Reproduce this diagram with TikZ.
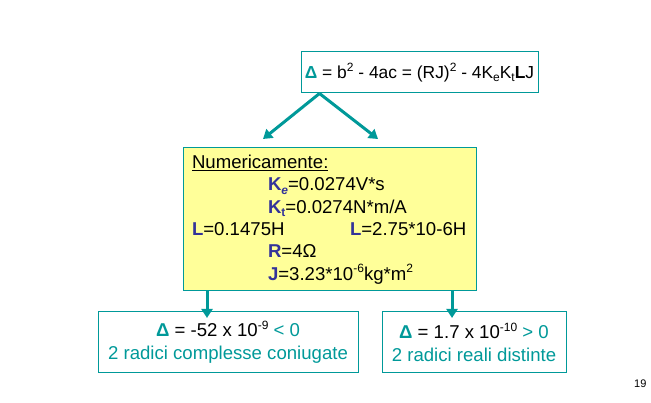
\documentclass[tikz,border=0pt]{standalone}
\usepackage{fontspec}
\setmainfont{Liberation Sans}
\usepackage{tikz}
\usetikzlibrary{arrows.meta}
\definecolor{tealline}{RGB}{0,153,153}
\definecolor{navyvar}{RGB}{51,51,153}
\definecolor{paleyellow}{RGB}{255,255,153}
\newcommand{\var}[1]{\textcolor{navyvar}{\textbf{#1}}}
\newcommand{\dlt}{\textcolor{tealline}{\textbf{Δ}}}
\newcommand{\up}[1]{\raisebox{0.4em}{\fontsize{12}{12}\selectfont #1}}
\newcommand{\dn}[1]{\raisebox{-0.2em}{\fontsize{12}{12}\selectfont #1}}

\begin{document}
\begin{tikzpicture}[x=1pt,y=1pt,
  box/.style={draw=tealline, line width=1pt, inner sep=0pt,
    font=\fontsize{18.6}{23}\selectfont},
  arr/.style={draw=tealline, line width=3pt, -{Triangle[length=9pt,width=11pt]}}]
\useasboundingbox (0,0) rectangle (651,403);
% discriminante
\node[box, minimum width=237pt, minimum height=41pt, font=\fontsize{17.4}{20}\selectfont] (delta) at (419.5,330.5)
  {\dlt{} = b\up{2} - 4ac = (RJ)\up{2} - 4K\dn{e}K\dn{t}\textbf{L}J};
% valori numerici
\node[box, fill=paleyellow, minimum width=293pt, minimum height=143pt,
  text width=275pt, align=left, font=\fontsize{18.6}{22.4}\selectfont] (num) at (329.5,183.5)
  {\underline{Numericamente:}\\
   \hspace*{76pt}\var{K}\dn{\var{\textit{e}}}=0.0274V*s\\
   \hspace*{76pt}\var{K}\dn{\var{t}}=0.0274N*m/A\\
   \makebox[158pt][l]{\var{L}=0.1475H}\var{L}=2.75*10-6H\\
   \hspace*{76pt}\var{R}=4Ω\\
   \hspace*{76pt}\var{J}=3.23*10\up{-6}kg*m\up{2}};
% due casi
\node[box, minimum width=260pt, minimum height=61pt, align=center] (neg) at (228,60.5)
  {\dlt{} = -52 x 10\up{-9} \textcolor{tealline}{< 0}\\
   \textcolor{tealline}{2 radici complesse coniugate}};
\node[box, minimum width=184pt, minimum height=61pt, align=center] (pos) at (474,60.5)
  {\dlt{} = 1.7 x 10\up{-10} \textcolor{tealline}{> 0}\\
   \textcolor{tealline}{2 radici reali distinte}};
\node[anchor=base east, font=\fontsize{11}{12}\selectfont] (page) at (650,15) {19};
% frecce
\coordinate (fork) at ([xshift=19pt]delta.south west);
\coordinate (tipl) at (263,264);
\coordinate (tipr) at (378,264);
\draw[arr] (fork) -- (tipl);
\draw[arr] (fork) -- (tipr);
\coordinate (tipn) at (207,85);
\coordinate (tipp) at (452,85);
\draw[arr] (num.south -| tipn) -- (tipn);
\draw[arr] (num.south -| tipp) -- (tipp);
\end{tikzpicture}
\end{document}
